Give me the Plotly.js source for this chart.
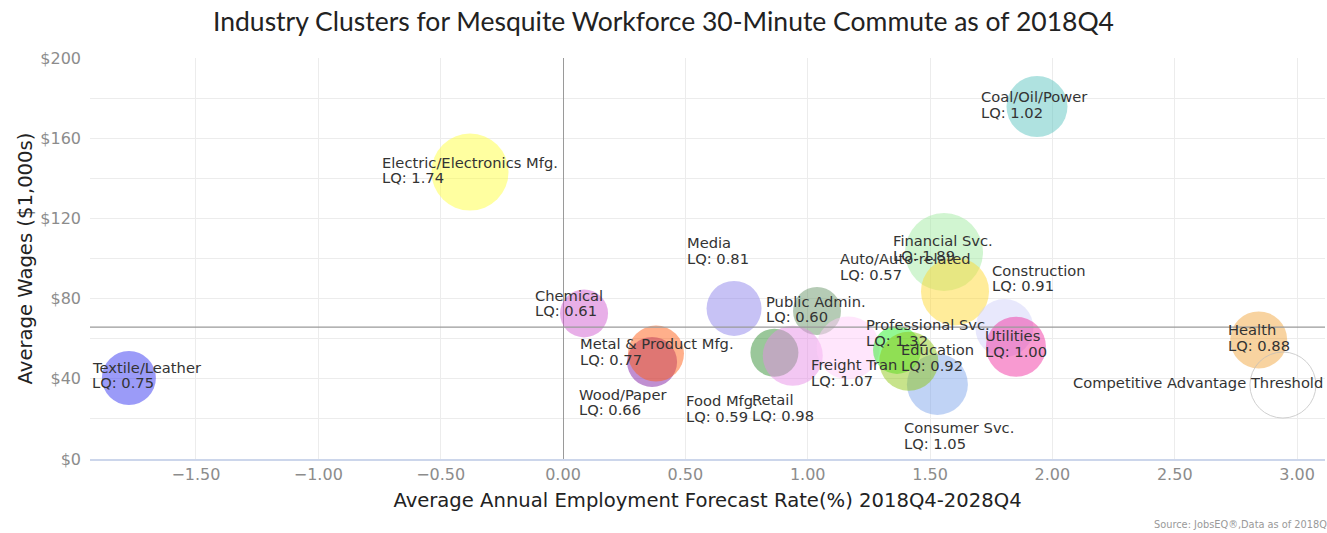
<!DOCTYPE html>
<html>
<head>
<meta charset="utf-8">
<script src="https://cdn.plot.ly/plotly-3.0.1.min.js"></script>
<style>html,body{margin:0;padding:0;background:#fff;overflow:hidden}#chart{width:1327px;height:533px}</style>
</head>
<body>
<div id="chart"></div>
<script>
// ---- data ----
const industries = ["Textile/Leather","Electric/Electronics Mfg.","Coal/Oil/Power","Chemical","Wood/Paper","Metal & Product Mfg.","Media","Public Admin.","Food Mfg.","Retail","Freight Tran","Financial Svc.","Auto/Auto-related","Construction","Consumer Svc.","Professional Svc.","Education","Utilities","Health"];
const forecastRate = [-1.774,-0.380,1.937,0.086,0.364,0.380,0.699,1.038,0.864,0.939,1.165,1.557,1.602,1.804,1.530,1.365,1.413,1.851,2.843];
const avgWages = [40.4,143.1,175.8,72.6,48.4,52.6,75.1,73.8,53.0,51.5,55.4,103.2,83.6,65.3,37.2,54.4,48.7,56.0,59.4];
const lq = ["0.75","1.74","1.02","0.61","0.66","0.77","0.81","0.60","0.59","0.98","1.07","1.89","0.57","0.91","1.05","1.32","0.92","1.00","0.88"];
const employment = [1458,2965,1860,1152,1250,1568,1512,1152,1152,1800,1985,3042,2312,1682,1860,1152,1740,1800,1625];

const thresholdLabel = "Competitive Advantage Threshold";
const thresholdX = [2.942];
const thresholdY = [36.9];
const thresholdSize = [2178];
const thresholdWage = 65.8;

// ---- styles (not data) ----
const bubbleColors = [
  "rgba(51,51,241,0.7)","rgba(255,255,62,0.7)","rgba(91,196,191,0.7)","rgba(208,91,208,0.7)",
  "rgba(126,26,162,0.7)","rgba(255,91,19,0.7)","rgba(141,131,234,0.7)","rgba(105,148,105,0.7)",
  "rgba(48,141,48,0.7)","rgba(231,141,231,0.7)","rgba(255,205,248,0.7)","rgba(162,234,162,0.7)",
  "rgba(255,216,48,0.7)","rgba(208,208,248,0.7)","rgba(126,165,234,0.7)","rgba(34,241,34,0.7)",
  "rgba(141,198,19,0.7)","rgba(241,48,162,0.7)","rgba(241,165,62,0.7)"];
const labelDx = [-37,-88,-56,-49,-73,-76,-47,-51,-88,-41,-37,-51,-115,-12.5,-33.5,-31,-8,-31,-31];
const labelDy = [3,2,2,10.5,-40,2,58,2,-56,-52,-24.5,4,24.6,50,-51,17.5,4,3,2.5];

const labelFont = {family:"DejaVu Sans", size:14.7, color:"#333333"};

const traces = [
  {type:"scatter", mode:"markers", x:forecastRate, y:avgWages,
   marker:{size:employment, sizemode:"area", sizeref:1, color:bubbleColors, line:{width:0}},
   hoverinfo:"skip", showlegend:false, cliponaxis:false},
  {type:"scatter", mode:"markers", x:thresholdX, y:thresholdY,
   marker:{size:thresholdSize, sizemode:"area", sizeref:1, color:"rgba(255,255,255,0)", line:{width:1, color:"#bdbdbd"}},
   hoverinfo:"skip", showlegend:false}
];

const annotations = [];
industries.forEach((name,i)=>{
  annotations.push({x:forecastRate[i], y:avgWages[i], xref:"x", yref:"y", text:name, showarrow:false,
    xanchor:"left", yanchor:"middle", xshift:labelDx[i]-2, yshift:labelDy[i]+7.8, font:labelFont});
  annotations.push({x:forecastRate[i], y:avgWages[i], xref:"x", yref:"y", text:"LQ: "+lq[i], showarrow:false,
    xanchor:"left", yanchor:"middle", xshift:labelDx[i]-2, yshift:labelDy[i]-7.8, font:labelFont});
});
annotations.push({x:thresholdX[0], y:thresholdY[0], xref:"x", yref:"y", text:thresholdLabel, showarrow:false,
  xanchor:"left", yanchor:"middle", xshift:-212, yshift:3, font:labelFont});
annotations.push({x:0.860, y:-0.163, xref:"paper", yref:"paper", text:"Source: JobsEQ®,Data as of 2018Q4",
  showarrow:false, xanchor:"left", yanchor:"middle", font:{family:"DejaVu Sans", size:9.8, color:"#999999"}});

const layout = {
  width:1327, height:533,
  margin:{l:90, r:2, t:58, b:74, pad:0},
  paper_bgcolor:"#ffffff", plot_bgcolor:"#ffffff",
  title:{text:"Industry Clusters for Mesquite Workforce 30-Minute Commute as of 2018Q4",
    font:{family:"Lato", size:26.5, color:"#222222"}, xref:"container", x:0.5, xanchor:"center",
    yref:"container", y:1-22/533, yanchor:"middle"},
  xaxis:{range:[-1.933,3.114], dtick:0.5, tick0:0, tickformat:".2f",
    showgrid:true, gridcolor:"#ececec", gridwidth:1,
    zeroline:true, zerolinecolor:"#9a9a9a", zerolinewidth:1,
    showline:true, linecolor:"#ccd6eb", linewidth:2,
    ticks:"", tickfont:{family:"DejaVu Sans", size:16, color:"#8c8c8c"},
    title:{text:"Average Annual Employment Forecast Rate(%) 2018Q4-2028Q4", font:{family:"DejaVu Sans", size:19.6, color:"#222222"}, standoff:10},
    fixedrange:true},
  yaxis:{range:[0,200], dtick:40, tick0:0, tickprefix:"$",
    showgrid:true, gridcolor:"#ececec", gridwidth:1,
    minor:{dtick:20, showgrid:true, gridcolor:"#ececec", gridwidth:1},
    zeroline:false, showline:false, ticks:"", ticklabelstandoff:8,
    tickfont:{family:"DejaVu Sans", size:16, color:"#8c8c8c"},
    title:{text:"Average Wages ($1,000s)", font:{family:"DejaVu Sans", size:19.6, color:"#222222"}, standoff:2},
    fixedrange:true},
  shapes:[{type:"line", xref:"paper", yref:"y", x0:0, x1:1, y0:thresholdWage, y1:thresholdWage,
    line:{color:"#9a9a9a", width:1.2}}],
  annotations:annotations,
  hovermode:false
};

Plotly.newPlot("chart", traces, layout, {displayModeBar:false, staticPlot:true});
</script>
</body>
</html>
